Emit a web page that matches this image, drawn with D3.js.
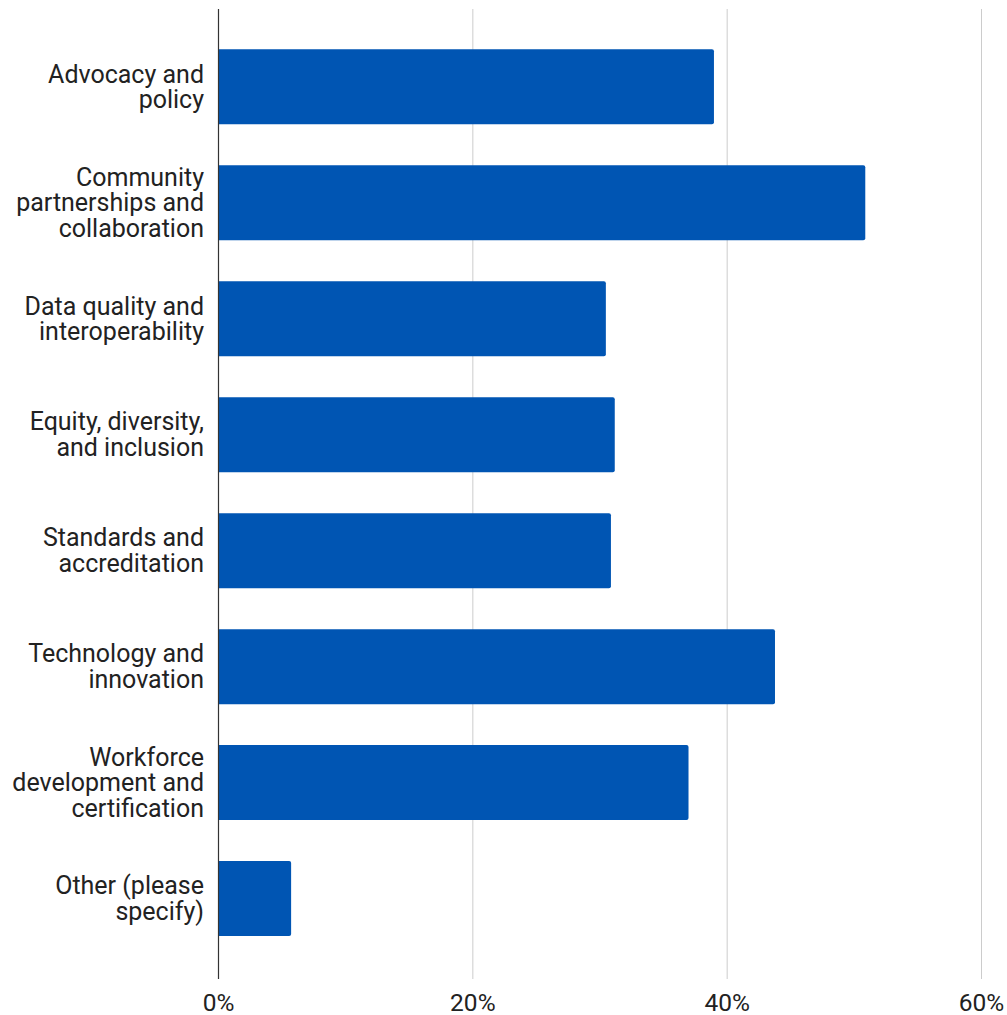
<!DOCTYPE html>
<html><head><meta charset="utf-8">
<script src="https://cdn.jsdelivr.net/npm/d3@7"></script>
<style>
html,body{margin:0;padding:0;background:#fff;}
svg{display:block;font-family:Roboto, "Noto Sans", sans-serif;}
</style></head>
<body>
<svg id="chart" width="1007" height="1015"></svg>
<script>
const categories = [
  ["Advocacy and","policy"],
  ["Community","partnerships and","collaboration"],
  ["Data quality and","interoperability"],
  ["Equity, diversity,","and inclusion"],
  ["Standards and","accreditation"],
  ["Technology and","innovation"],
  ["Workforce","development and","certification"],
  ["Other (please","specify)"]
];
const values = [39.0, 50.9, 30.5, 31.2, 30.9, 43.8, 37.0, 5.75];
const ticks = [0, 20, 40, 60];
const tickLabels = ["0%", "20%", "40%", "60%"];

(function(){
const svg = d3.select("#chart");
const pLeft = 218, pRight = 981, pTop = 9, pBottom = 979;
const x = d3.scaleLinear().domain([0, 60]).range([pLeft, pRight]);
const y = d3.scaleBand().domain(d3.range(categories.length)).range([pTop - 1.3, pBottom - 1.3])
  .paddingInner(0.3532).paddingOuter(0.359);

// gridlines
svg.append("g").selectAll("line").data(ticks.slice(1)).join("line")
  .attr("x1", d => x(d) + 0.5).attr("x2", d => x(d) + 0.5)
  .attr("y1", pTop).attr("y2", pBottom)
  .attr("stroke", "#cccccc").attr("stroke-width", 1);

// bars with small rounded right corners
const r = 2;
svg.append("g").selectAll("path").data(values).join("path")
  .attr("fill", "#0055b3")
  .attr("d", (d, i) => {
    const x0 = x(0), x1 = x(d), y0 = y(i), h = y.bandwidth();
    return `M${x0},${y0}H${x1 - r}Q${x1},${y0} ${x1},${y0 + r}V${y0 + h - r}Q${x1},${y0 + h} ${x1 - r},${y0 + h}H${x0}Z`;
  });

// zero axis line
svg.append("line").attr("x1", x(0) + 0.5).attr("x2", x(0) + 0.5)
  .attr("y1", pTop).attr("y2", pBottom).attr("stroke", "#333").attr("stroke-width", 1.2);

// x axis tick labels
const xAxis = d3.axisBottom(x).tickValues(ticks).tickFormat((d, i) => tickLabels[i]).tickSize(0).tickPadding(0);
const gx = svg.append("g").attr("transform", `translate(0,${pBottom})`).call(xAxis);
gx.select(".domain").remove();
gx.selectAll("text").attr("font-size", 24.5).attr("fill", "#222").attr("font-family", "Roboto")
  .attr("dy", null).attr("y", 31.5);

// category labels
const lh = 25.5;
const lg = svg.append("g");
categories.forEach((lines, i) => {
  const cy = y(i) + y.bandwidth() / 2;
  const n = lines.length;
  lines.forEach((s, k) => {
    lg.append("text").attr("text-anchor", "end").attr("font-size", 25).attr("fill", "#222")
      .attr("x", 204).attr("y", cy + (k - (n - 1) / 2) * lh + 8.5).text(s);
  });
});
})();
</script>
</body></html>
